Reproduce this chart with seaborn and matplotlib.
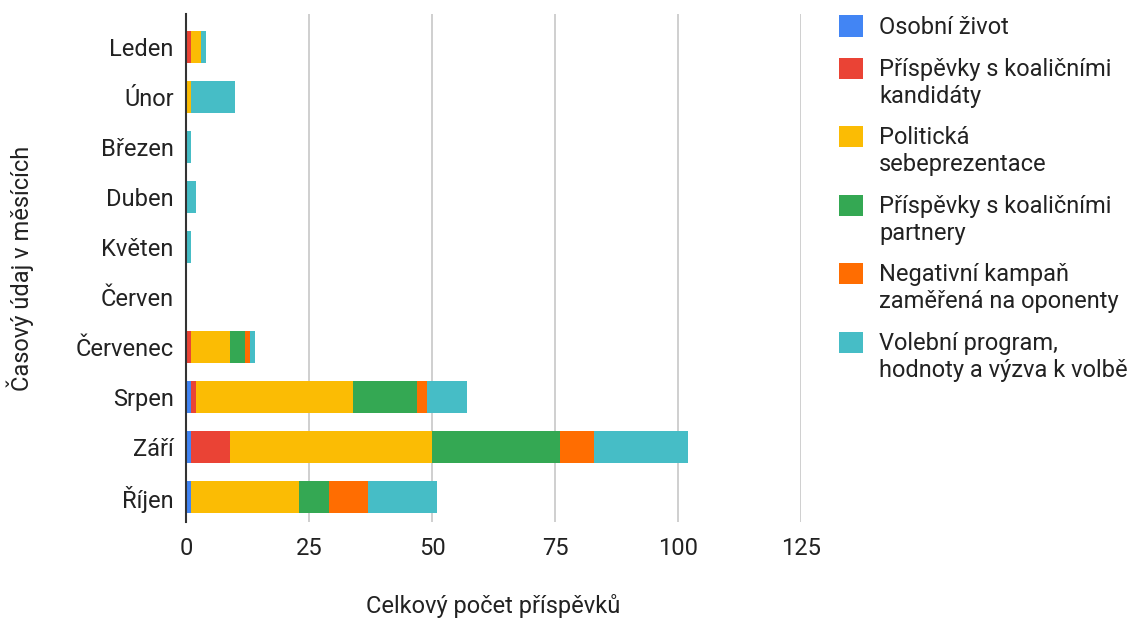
import numpy as np
import pandas as pd
import matplotlib
matplotlib.use("Agg")
import matplotlib.pyplot as plt
from matplotlib.patches import Patch, Rectangle
from matplotlib.legend_handler import HandlerPatch
import seaborn as sns

months = ["Leden", "Únor", "Březen", "Duben", "Květen", "Červen",
          "Červenec", "Srpen", "Září", "Říjen"]
categories = ["Osobní život", "Příspěvky s koaličními kandidáty",
              "Politická sebeprezentace", "Příspěvky s koaličními partnery",
              "Negativní kampaň zaměřená na oponenty",
              "Volební program, hodnoty a výzva k volbě"]
legend_labels = ["Osobní život", "Příspěvky s koaličními\nkandidáty",
                 "Politická\nsebeprezentace", "Příspěvky s koaličními\npartnery",
                 "Negativní kampaň\nzaměřená na oponenty",
                 "Volební program,\nhodnoty a výzva k volbě"]
osobni = [0, 0, 0, 0, 0, 0, 0, 1, 1, 1]
kandidati = [1, 0, 0, 0, 0, 0, 1, 1, 8, 0]
sebeprezentace = [2, 1, 0, 0, 0, 0, 8, 32, 41, 22]
partneri = [0, 0, 0, 0, 0, 0, 3, 13, 26, 6]
negativni = [0, 0, 0, 0, 0, 0, 1, 2, 7, 8]
program = [1, 9, 1, 2, 1, 0, 1, 8, 19, 14]
colors = ["#4285F4", "#EA4335", "#FBBC04", "#34A853", "#FF6D01", "#46BDC6"]

df = pd.DataFrame({"month": months, categories[0]: osobni, categories[1]: kandidati,
                   categories[2]: sebeprezentace, categories[3]: partneri,
                   categories[4]: negativni, categories[5]: program})
cum = df[categories].cumsum(axis=1)


class TopSwatch(HandlerPatch):
    # put the colour square next to the first line of a wrapped label
    def __init__(self, shift):
        super().__init__()
        self.shift = shift

    def create_artists(self, legend, orig_handle, xdescent, ydescent,
                       width, height, fontsize, trans):
        r = Rectangle((-xdescent, -ydescent + self.shift), width, height,
                      facecolor=orig_handle.get_facecolor(), edgecolor="none",
                      transform=trans)
        return [r]


sns.set_style("white")
plt.rcParams["font.family"] = ["Roboto", "DejaVu Sans"]

fig = plt.figure(figsize=(11.42, 6.18), dpi=100)
ax = fig.add_axes([0.163, 0.155, 0.5385, 0.822])

# stacked bars: draw the cumulative totals from the outermost segment inwards
for cat, col in zip(reversed(categories), reversed(colors)):
    sns.barplot(x=cum[cat], y=df["month"], color=col, orient="h", width=0.64,
                saturation=1, linewidth=0, edgecolor="none", ax=ax, zorder=3)

ax.set_xlim(0, 125)
ax.set_ylim(9.5, -0.66)
ax.set_xticks([0, 25, 50, 75, 100, 125])
ax.grid(axis="x", color="#cccccc", linewidth=1.3, zorder=0)
ax.set_axisbelow(True)
for s in ["top", "right", "bottom"]:
    ax.spines[s].set_visible(False)
ax.spines["left"].set_color("#333333")
ax.spines["left"].set_linewidth(1.5)
ax.spines["left"].set_zorder(5)
ax.tick_params(axis="both", length=0, labelsize=17, colors="#222222")
ax.tick_params(axis="y", pad=9)
ax.tick_params(axis="x", pad=11)
ax.set_xlabel("Celkový počet příspěvků", fontsize=17, color="#222222", labelpad=24)
ax.set_ylabel("Časový údaj v měsících", fontsize=17, color="#222222", labelpad=30)

handles = [Patch(facecolor=c, edgecolor="none") for c in colors]
hmap = {h: TopSwatch(11.0 if "\n" in lab else 0.0) for h, lab in zip(handles, legend_labels)}
leg = fig.legend(handles, legend_labels, loc="upper left", bbox_to_anchor=(0.735, 0.975),
                 frameon=False, fontsize=17, handlelength=1.0, handleheight=1.0,
                 handletextpad=0.68, labelspacing=0.8, borderpad=0, borderaxespad=0,
                 handler_map=hmap)
for t in leg.get_texts():
    t.set_linespacing(1.2)
    t.set_color("#222222")

fig.savefig("out.png", dpi=100)
